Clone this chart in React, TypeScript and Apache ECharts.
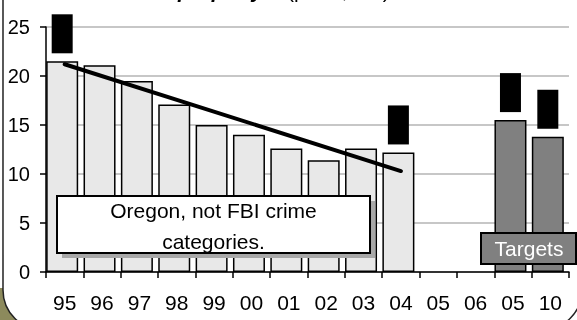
import React, { useEffect, useRef } from "react";
import * as echarts from "echarts";

const categories = ["95", "96", "97", "98", "99", "00", "01", "02", "03", "04", "05", "06", "05", "10"];
const actual: (number | null)[] = [21.5, 21.1, 19.5, 17.1, 15.0, 14.0, 12.6, 11.4, 12.6, 12.2, null, null, null, null];
const targets: (number | null)[] = [null, null, null, null, null, null, null, null, null, null, null, null, 15.5, 13.8];
const trend: (number | null)[] = [21.2, null, null, null, null, null, null, null, null, 10.3, null, null, null, null];
const labelledActual = [0, 9];
const yMin = 0;
const yMax = 25;
const yStep = 5;
const noteText = "Oregon, not FBI crime\ncategories.";
const targetText = "Targets";
const titleMain = "property";
const titleUnit = "(per 1,000)";

const FONT = "'Liberation Sans', Arial, sans-serif";

const blackBox = {
  show: true,
  position: "top",
  distance: 8,
  formatter: " ",
  backgroundColor: "#000",
  width: 21,
  height: 39,
  padding: 0,
};

export default function App() {
  const ref = useRef<HTMLDivElement>(null);
  useEffect(() => {
    if (!ref.current) return;
    const chart = echarts.init(ref.current, undefined, { renderer: "svg" });
    const option: any = {
      animation: false,
      grid: { left: 46, right: 8, top: 27, bottom: 48 },
      xAxis: {
        type: "category",
        data: categories,
        boundaryGap: true,
        axisLine: { show: true, lineStyle: { color: "#000", width: 1.5 } },
        axisTick: { show: true, length: 6, lineStyle: { color: "#000", width: 1.5 } },
        axisLabel: { color: "#000", fontSize: 21, fontFamily: FONT, margin: 20, interval: 0 },
      },
      yAxis: {
        type: "value",
        min: yMin,
        max: yMax,
        interval: yStep,
        axisLine: { show: true, lineStyle: { color: "#000", width: 1.5 } },
        axisTick: { show: true, length: 6, lineStyle: { color: "#000", width: 1.5 } },
        axisLabel: { color: "#000", fontSize: 20, fontFamily: FONT, margin: 16 },
        splitLine: { show: true, lineStyle: { color: "#b4b4b4", width: 1.5 } },
      },
      series: [
        {
          type: "bar",
          stack: "m",
          barWidth: 32,
          barGap: 0,
          data: actual.map((v, i) =>
            labelledActual.includes(i) ? { value: v, label: blackBox } : v
          ),
          itemStyle: { color: "#e8e8e8", borderColor: "#000", borderWidth: 1.5 },
          z: 2,
        },
        {
          type: "bar",
          stack: "m",
          barWidth: 32,
          barGap: 0,
          data: targets.map((v) => (v != null ? { value: v, label: blackBox } : v)),
          itemStyle: { color: "#808080", borderColor: "#000", borderWidth: 1.5 },
          z: 2,
        },
        {
          type: "bar",
          barWidth: 5,
          barGap: 0,
          data: categories.map(() => null),
          silent: true,
        },
        {
          type: "line",
          data: trend,
          connectNulls: true,
          symbol: "none",
          lineStyle: { color: "#000", width: 4, cap: "round" },
          z: 5,
        },
      ],
      graphic: [
        {
          type: "polygon",
          z: -20,
          shape: { points: [[0, 288], [26, 288], [26, 320], [0, 320]] },
          style: { fill: "#8c8a5c" },
        },
        {
          type: "rect",
          z: -10,
          shape: { x: 3, y: -40, width: 579, height: 370, r: 40 },
          style: { fill: "#fff", stroke: "#222", lineWidth: 1.5 },
        },
        {
          type: "text",
          z: 10,
          x: 178,
          y: 1,
          style: {
            text: titleMain,
            font: `italic bold 21px ${FONT}`,
            fill: "#000",
            verticalAlign: "bottom",
          },
        },
        {
          type: "text",
          z: 10,
          x: 287,
          y: 1,
          style: {
            text: titleUnit,
            font: `21px ${FONT}`,
            fill: "#000",
            verticalAlign: "bottom",
          },
        },
        {
          type: "rect",
          z: 20,
          shape: { x: 62, y: 201, width: 313, height: 57 },
          style: { fill: "#a8a8a8" },
        },
        {
          type: "rect",
          z: 21,
          shape: { x: 57, y: 196, width: 313, height: 57 },
          style: { fill: "#fff", stroke: "#000", lineWidth: 2 },
        },
        {
          type: "text",
          z: 22,
          x: 213.5,
          y: 226,
          style: {
            text: noteText,
            font: `21px ${FONT}`,
            lineHeight: 31,
            fill: "#000",
            align: "center",
            verticalAlign: "middle",
          },
        },
        {
          type: "rect",
          z: 21,
          shape: { x: 481, y: 233, width: 95, height: 31 },
          style: { fill: "#808080", stroke: "#000", lineWidth: 2 },
        },
        {
          type: "text",
          z: 22,
          x: 529,
          y: 248.5,
          style: {
            text: targetText,
            font: `21px ${FONT}`,
            fill: "#fff",
            align: "center",
            verticalAlign: "middle",
          },
        },
      ],
    };
    chart.setOption(option);
    return () => chart.dispose();
  }, []);
  return (
    <div
      ref={ref}
      style={{ position: "fixed", left: 0, top: 0, width: 577, height: 320 }}
    />
  );
}
